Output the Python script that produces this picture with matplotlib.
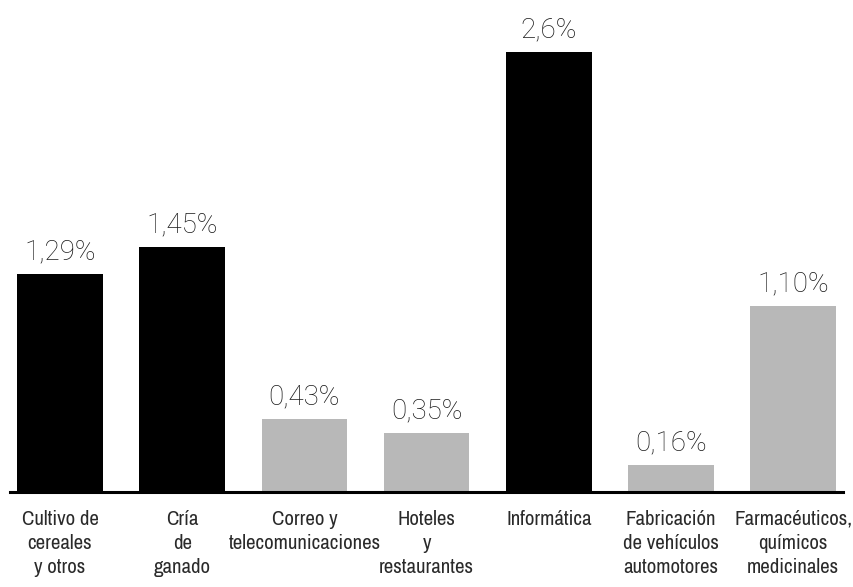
import matplotlib
matplotlib.use("Agg")
import matplotlib.pyplot as plt
from matplotlib import font_manager as fm

categories = ["Cultivo de\ncereales\ny otros", "Cría\nde\nganado", "Correo y\ntelecomunicaciones",
              "Hoteles\ny\nrestaurantes", "Informática", "Fabricación\nde vehículos\nautomotores",
              "Farmacéuticos,\nquímicos\nmedicinales"]
values = [1.29, 1.45, 0.43, 0.35, 2.6, 0.16, 1.10]
value_labels = ["1,29%", "1,45%", "0,43%", "0,35%", "2,6%", "0,16%", "1,10%"]
highlight = [True, True, False, False, True, False, False]

# look for a regular-weight condensed face, preferring non-DejaVu ones
cands = []
for f in fm.fontManager.ttflist:
    narrowish = ("Condensed" in f.name or "Narrow" in f.name or
                 str(f.stretch) in ("condensed", "semi-condensed", "extra-condensed"))
    if narrowish and f.style == "normal" and f.weight in (400, "normal", "regular", "book"):
        cands.append(f)
cands.sort(key=lambda f: ("DejaVu" in f.name, f.name))
if cands:
    lab_prop = fm.FontProperties(fname=cands[0].fname)
else:
    lab_prop = fm.FontProperties(family=["Liberation Sans", "DejaVu Sans"])

fig = plt.figure(figsize=(8.54, 5.87), dpi=100)
# size the labels so the widest word matches the reference width (~153 px)
renderer = fig.canvas.get_renderer()
probe = fig.text(0, 0, "telecomunicaciones", fontproperties=lab_prop, fontsize=14)
w = probe.get_window_extent(renderer).width
probe.remove()
lab_size = min(16, 14 * 152 / w)

ax = fig.add_axes([0, 0.162, 1, 0.80])
x = list(range(len(values)))
colors = ["#000000" if h else "#b8b8b8" for h in highlight]
ax.bar(x, values, width=0.70, color=colors)
ax.set_xlim(-0.491, 6.497)
ax.set_ylim(0, 2.775)
ax.axhline(0, xmin=0.0117, xmax=0.987, color="black", lw=2.2, clip_on=False)
for xi, v, lab in zip(x, values, value_labels):
    ax.annotate(lab, (xi, v), xytext=(0, 6), textcoords="offset points", ha="center", va="bottom",
                fontsize=20, color="#1a1a1a", family=["Roboto", "DejaVu Sans"], fontweight="light")
for xi, c in zip(x, categories):
    ax.annotate(c, (xi, 0), xytext=(0, -13), textcoords="offset points", ha="center", va="top",
                color="#2a2a2a", linespacing=1.32, fontproperties=lab_prop, fontsize=lab_size)
for s in ax.spines.values():
    s.set_visible(False)
ax.set_xticks([]); ax.set_yticks([])
fig.savefig("out.png", dpi=100)
